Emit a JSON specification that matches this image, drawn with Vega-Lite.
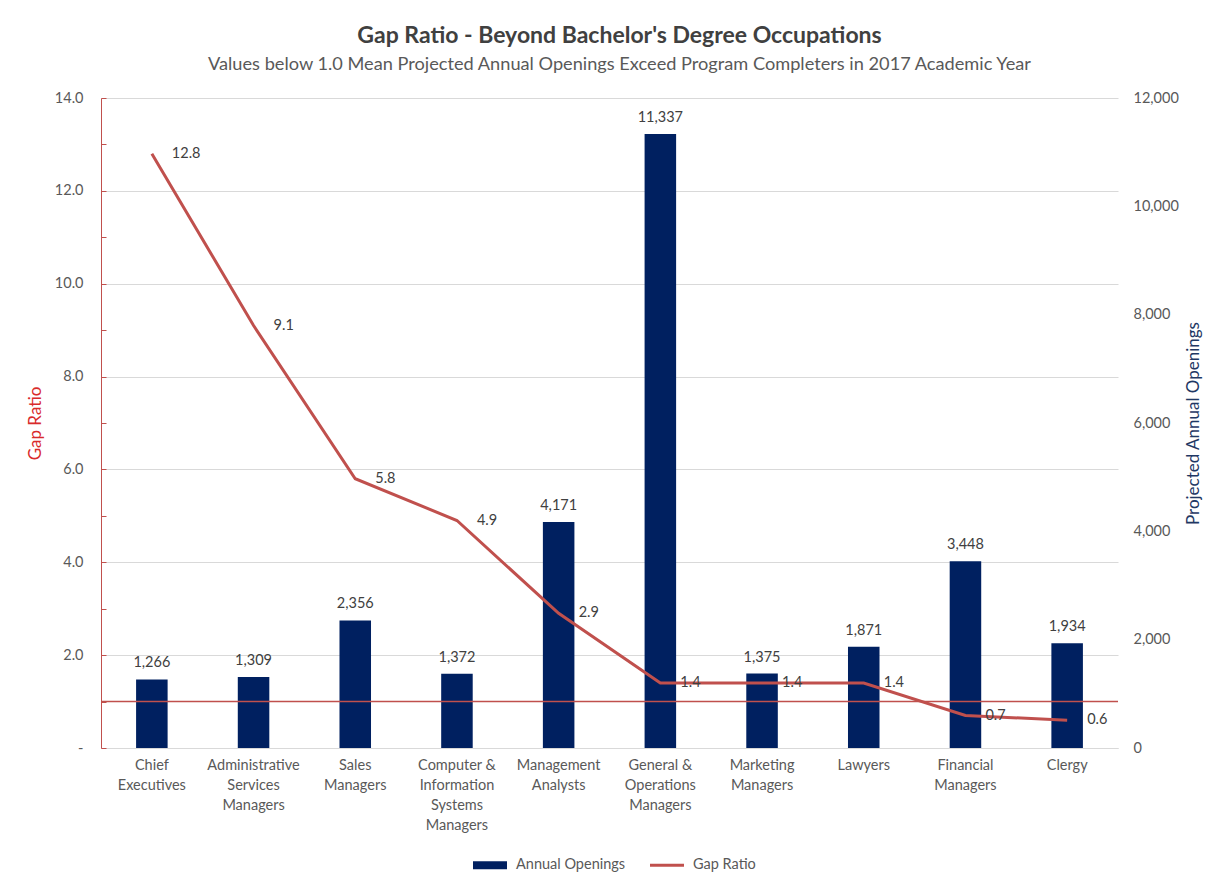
{
  "$schema": "https://vega.github.io/schema/vega-lite/v6.json",
  "width": 1017,
  "height": 650,
  "autosize": {"type": "none"},
  "padding": {"left": 101, "top": 98, "right": 107, "bottom": 142},
  "background": "white",
  "config": {
    "font": "Lato",
    "view": {"stroke": null},
    "axis": {"labelFont": "Lato", "titleFont": "Lato", "labelColor": "#595959", "labelFontSize": 14.5},
    "legend": {"labelFont": "Lato"}
  },
  "title": {
    "text": "Gap Ratio - Beyond Bachelor's Degree Occupations",
    "subtitle": "Values below 1.0 Mean Projected Annual Openings Exceed Program Completers in 2017 Academic Year",
    "anchor": "middle",
    "fontSize": 23,
    "fontWeight": "bold",
    "color": "#404040",
    "subtitleFontSize": 18.2,
    "subtitleColor": "#595959",
    "subtitlePadding": 8,
    "offset": 17,
    "dx": 10
  },
  "data": {
    "values": [
      {"occupation": "Chief Executives", "openings": 1266, "gap": 12.8},
      {"occupation": "Administrative Services Managers", "openings": 1309, "gap": 9.1},
      {"occupation": "Sales Managers", "openings": 2356, "gap": 5.8},
      {"occupation": "Computer & Information Systems Managers", "openings": 1372, "gap": 4.9},
      {"occupation": "Management Analysts", "openings": 4171, "gap": 2.9},
      {"occupation": "General & Operations Managers", "openings": 11337, "gap": 1.4},
      {"occupation": "Marketing Managers", "openings": 1375, "gap": 1.4},
      {"occupation": "Lawyers", "openings": 1871, "gap": 1.4},
      {"occupation": "Financial Managers", "openings": 3448, "gap": 0.7},
      {"occupation": "Clergy", "openings": 1934, "gap": 0.6}
    ]
  },
  "layer": [
    {
      "encoding": {
        "y": {
          "field": "openings",
          "type": "quantitative",
          "scale": {"domain": [0, 12000], "nice": false},
          "axis": {
            "orient": "right",
            "values": [0, 2000, 4000, 6000, 8000, 10000, 12000],
            "labelExpr": "format(datum.value, ',')",
            "grid": false,
            "domain": false,
            "ticks": false,
            "labelPadding": 15,
            "title": "Projected Annual Openings",
            "titleAngle": 270,
            "titleColor": "#1F3864",
            "titleFontSize": 17,
            "titleFontWeight": "normal",
            "titlePadding": 24
          }
        }
      },
      "layer": [
        {
          "mark": {"type": "bar"},
          "encoding": {
            "x": {
              "field": "occupation",
              "type": "nominal",
              "sort": null,
              "title": null,
              "scale": {"paddingInner": 0.69, "paddingOuter": 0.345},
              "axis": {
                "labelAngle": 0,
                "ticks": false,
                "domainColor": "#D9D9D9",
                "labelFontSize": 14.5,
                "labelLineHeight": 20,
                "labelPadding": 10,
                "labelBaseline": "top",
                "labelExpr": "{'Chief Executives': ['Chief', 'Executives'], 'Administrative Services Managers': ['Administrative', 'Services', 'Managers'], 'Sales Managers': ['Sales', 'Managers'], 'Computer & Information Systems Managers': ['Computer &', 'Information', 'Systems', 'Managers'], 'Management Analysts': ['Management', 'Analysts'], 'General & Operations Managers': ['General &', 'Operations', 'Managers'], 'Marketing Managers': ['Marketing', 'Managers'], 'Lawyers': ['Lawyers'], 'Financial Managers': ['Financial', 'Managers'], 'Clergy': ['Clergy']}[datum.value]"
              }
            },
            "color": {
              "datum": "Annual Openings",
              "type": "nominal",
              "scale": {"domain": ["Annual Openings", "Gap Ratio"], "range": ["#002060", "#C0504D"]},
              "legend": {
                "orient": "none",
                "legendX": 372,
                "legendY": 750,
                "direction": "horizontal",
                "title": null,
                "labelFontSize": 14.5,
                "labelColor": "#595959",
                "symbolSize": 1156,
                "labelOffset": 9,
                "columnPadding": 24,
                "encode": {
                  "symbols": {
                    "update": {
                      "shape": {"signal": "datum.value === 'Gap Ratio' ? 'M-1,-0.09L1,-0.09L1,0.09L-1,0.09Z' : 'M-1,-0.24L1,-0.24L1,0.24L-1,0.24Z'"},
                      "fill": {"scale": "color", "field": "value"},
                      "stroke": {"value": "transparent"},
                      "strokeWidth": {"value": 0},
                      "opacity": {"value": 1},
                      "fillOpacity": {"value": 1}
                    }
                  }
                }
              }
            }
          }
        },
        {
          "mark": {"type": "text", "baseline": "bottom", "dy": -9, "fontSize": 14.5, "color": "#404040"},
          "encoding": {
            "x": {"field": "occupation", "type": "nominal", "sort": null, "title": null},
            "text": {"field": "openings", "type": "quantitative", "format": ","}
          }
        }
      ]
    },
    {
      "encoding": {
        "y": {
          "field": "gap",
          "type": "quantitative",
          "scale": {"domain": [0, 14], "nice": false},
          "axis": {
            "orient": "left",
            "values": [0, 1, 2, 3, 4, 5, 6, 7, 8, 9, 10, 11, 12, 13, 14],
            "labelExpr": "datum.value == 0 ? '-' : (datum.value % 2 == 0 ? format(datum.value, '.1f') : '')",
            "grid": true,
            "gridColor": "#D9D9D9",
            "gridOpacity": {"expr": "datum.value % 2 == 0 ? 1 : 0"},
            "domainColor": "#C0504D",
            "tickColor": "#C0504D",
            "tickSize": -5,
            "labelPadding": 23,
            "title": "Gap Ratio",
            "titleColor": "#D92B2B",
            "titleFontSize": 17,
            "titleFontWeight": "normal",
            "titlePadding": 10
          }
        }
      },
      "layer": [
        {
          "mark": {"type": "line", "strokeWidth": 3},
          "encoding": {
            "x": {"field": "occupation", "type": "nominal", "sort": null, "title": null},
            "color": {"datum": "Gap Ratio", "type": "nominal"}
          }
        },
        {
          "mark": {"type": "text", "align": "left", "baseline": "middle", "dx": 20, "fontSize": 14.5, "color": "#404040"},
          "encoding": {
            "x": {"field": "occupation", "type": "nominal", "sort": null, "title": null},
            "text": {"field": "gap", "type": "quantitative", "format": ".1f"}
          }
        },
        {
          "data": {"values": [{"gap": 1}]},
          "mark": {"type": "rule", "color": "#C0504D", "strokeWidth": 1.5},
          "encoding": {}
        }
      ]
    }
  ],
  "resolve": {"scale": {"y": "independent"}}
}
